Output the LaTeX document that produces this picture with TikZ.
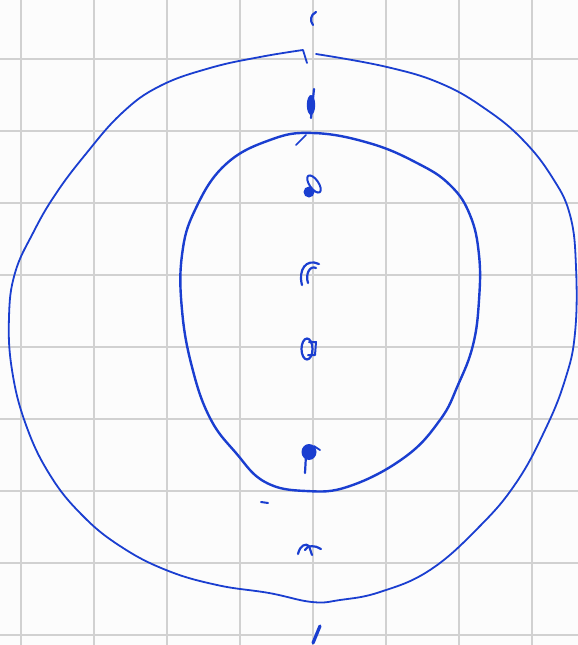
\documentclass[tikz,border=0pt]{standalone}
\begin{document}
\begin{tikzpicture}[x=1pt,y=-1pt,
  ink/.style={draw=penblue,line cap=round,line join=round},
  gridline/.style={draw=black!18,line width=1.3pt}]
\definecolor{penblue}{RGB}{26,62,208}
\useasboundingbox (0,0) rectangle (578,645);
\fill[white!98!gray] (0,0) rectangle (578,645);
% grid
\foreach \x in {21,94,167,240,313,386,459,532} \draw[gridline] (\x,0) -- (\x,645);
\foreach \y in {59,131,203,275,347,419,491,563,635} \draw[gridline] (0,\y) -- (578,\y);
% outer loop
\draw[ink,line width=1.8pt] plot[smooth,tension=0.7] coordinates {
 (316,54) (387,67) (442,84) (487,110) (523,140) (552,177) (570,215) (576,267)
 (575,333) (565,380) (545,430) (516,483) (479,527) (430,570) (380,592) (340,600)
 (312,602) (269,593) (217,585) (166,570) (120,546) (82,515) (50,475) (26,425)
 (12,370) (9,317) (15,273) (33,233) (55,195) (85,155) (122,113) (160,86)
 (210,68) (260,57) (303,50)} -- (307,63);
% inner loop
\draw[ink,line width=2.4pt] plot[smooth cycle,tension=0.7] coordinates {
 (313,133) (369,143) (417,163) (450,185) (470,215) (479,255) (479,300) (473,345)
 (458,385) (440,420) (405,457) (350,486) (306,491) (265,482) (236,453) (210,418)
 (192,367) (182,310) (182,255) (195,210) (225,165) (270,140)};
\draw[ink,line width=1.6pt] (296,145) -- (306,135);
% marks along the axis
\draw[ink,line width=2.2pt] (316,12) .. controls (310,15) and (310,21) .. (313,25);
\fill[penblue] (311,105) ellipse (4.2 and 10);
\draw[ink,line width=2.2pt] (314,89) -- (311,118);
\draw[ink,line width=2pt,rotate around={35:(314,184)}] (314,184) ellipse (4.5 and 10);
\fill[penblue] (309,192) circle (5.5);
\draw[ink,line width=2.2pt] (302,285) .. controls (298,270) and (306,258) .. (319,264);
\draw[ink,line width=2.2pt] (308,283) .. controls (305,274) and (310,265) .. (316,268);
\draw[ink,line width=2.2pt] (307,349) ellipse (5.5 and 10.5);
\draw[ink,line width=2pt] (309,342) -- (316,342) -- (315,355) -- (308,355);
\fill[penblue] (309,452) ellipse (7.5 and 8);
\draw[ink,line width=2.2pt] (306,455) -- (305,473);
\draw[ink,line width=1.8pt] (314,446) -- (320,450);
\draw[ink,line width=2pt] (261,502) -- (268,503);
\draw[ink,line width=2.2pt] (298,554) .. controls (300,545) and (306,543) .. (309,546) -- (312,555);
\draw[ink,line width=2.2pt] (305,550) .. controls (307,545) and (315,545) .. (321,549);
\draw[ink,line width=3.2pt] (320,626) -- (313,643);
\end{tikzpicture}
\end{document}
